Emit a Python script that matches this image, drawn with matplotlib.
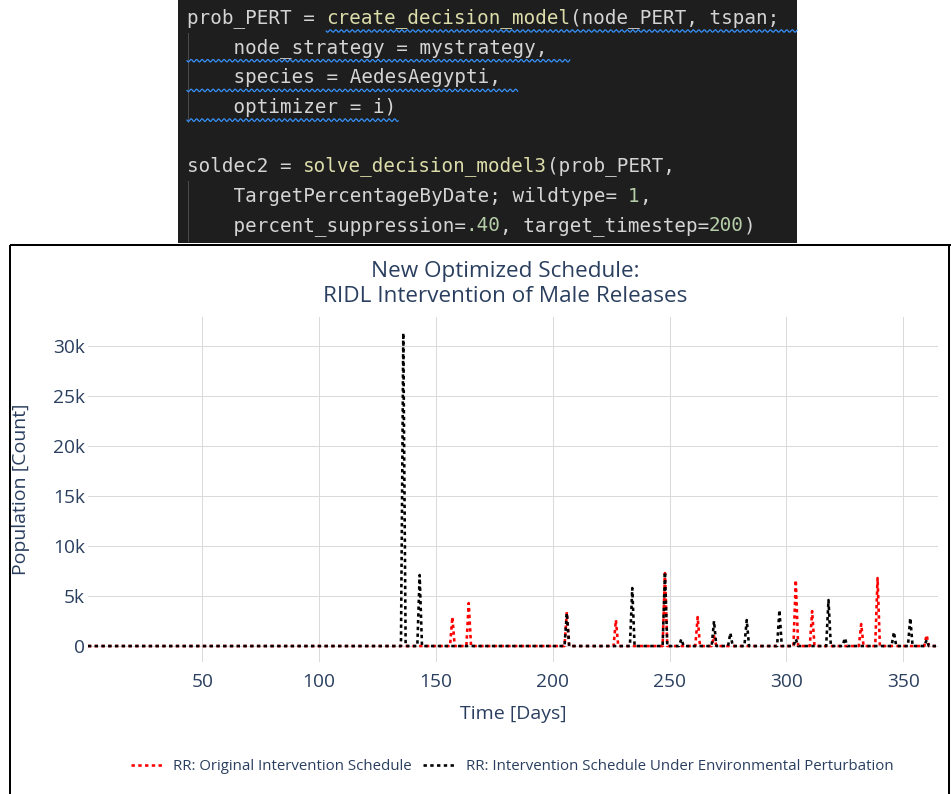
import numpy as np
import matplotlib
matplotlib.use("Agg")
import matplotlib.pyplot as plt
from matplotlib.lines import Line2D

# ---------------- data ----------------
days = np.arange(1, 366)

orig_peak_days = [157, 164, 206, 227, 248, 262, 269, 304, 311, 332, 339, 360]
orig_peak_vals = [2900, 4300, 3400, 2600, 7300, 2900, 1000, 6600, 3500, 2200, 6800, 1100]

pert_peak_days = [136, 143, 206, 234, 248, 255, 269, 276, 283, 297, 304, 318, 325, 346, 353, 360]
pert_peak_vals = [31300, 7100, 3300, 5800, 7400, 700, 2500, 1300, 2600, 3600, 700, 4600, 800, 1400, 2800, 600]

series_names = ["RR: Original Intervention Schedule",
                "RR: Intervention Schedule Under Environmental Perturbation"]
series_colors = ["#ff0000", "#000000"]

x_ticks = [50, 100, 150, 200, 250, 300, 350]
y_ticks = [0, 5000, 10000, 15000, 20000, 25000, 30000]
y_tick_labels = ["0", "5k", "10k", "15k", "20k", "25k", "30k"]

title_text = "New Optimized Schedule:\nRIDL Intervention of Male Releases"
x_title = "Time [Days]"
y_title = "Population [Count]"

# code snippet: list of lines, each a list of (text, kind)
code_lines = [
    [("prob_PERT = ", "t"), ("create_decision_model", "f"), ("(node_PERT, tspan;", "t")],
    [("    node_strategy = mystrategy,", "t")],
    [("    species = AedesAegypti,", "t")],
    [("    optimizer = i)", "t")],
    [],
    [("soldec2 = ", "t"), ("solve_decision_model3", "f"), ("(prob_PERT,", "t")],
    [("    TargetPercentageByDate; wildtype= ", "t"), ("1", "n"), (",", "t")],
    [("    percent_suppression=", "t"), (".40", "n"), (", target_timestep=", "t"), ("200", "n"), (")", "t")],
]
# squiggle underline spans (line index, start col, end col)
squiggles = [(0, 12, 53), (1, 0, 33), (2, 0, 28.5), (3, 0, 18.2)]

# ---------------- build series ----------------
orig = np.zeros(len(days))
orig[np.searchsorted(days, orig_peak_days)] = orig_peak_vals
pert = np.zeros(len(days))
pert[np.searchsorted(days, pert_peak_days)] = pert_peak_vals

# ---------------- figure ----------------
W, H = 951, 794
fig = plt.figure(figsize=(W / 100, H / 100), dpi=100)
fig.patch.set_facecolor("white")

PX = 72 / 100  # points per pixel
txt_color = "#2a3f5f"
font = ["Open Sans", "DejaVu Sans"]

# overlay axes in pixel coords for decorations
deco = fig.add_axes([0, 0, 1, 1], zorder=0)
deco.set_xlim(0, W)
deco.set_ylim(H, 0)
deco.axis("off")

# code block background
deco.add_patch(plt.Rectangle((178, 0), 619, 243, facecolor="#1e1e1e", edgecolor="none"))
# chart box border
deco.plot([10, 10], [245, H + 5], color="black", lw=2 * PX, solid_capstyle="butt")
deco.plot([10, W + 5], [245, 245], color="black", lw=2 * PX, solid_capstyle="butt")
deco.plot([949, 949], [245, H + 5], color="black", lw=2 * PX, solid_capstyle="butt")

# code text (monospace: advance 0.602 em)
code_colors = {"t": "#d4d4d4", "f": "#dcdcaa", "n": "#b5cea8"}
cw = 11.6
code_fs = cw / 0.602 * PX
x0 = 187
line_y = [18 + 29.7 * i for i in range(len(code_lines))]
for i, segs in enumerate(code_lines):
    col = 0
    for text, kind in segs:
        deco.text(x0 + col * cw, line_y[i], text, family=["DejaVu Sans Mono"],
                  fontsize=code_fs, color=code_colors[kind], va="center", ha="left",
                  clip_on=True)
        col += len(text)
# indentation guides
for (a, b) in [(1, 3), (6, 7)]:
    deco.plot([x0 + 1, x0 + 1], [line_y[a] - 15, line_y[b] + 15], color="#4a4a4a", lw=1 * PX)
# squiggles
for (li, c0, c1) in squiggles:
    xs = np.linspace(x0 + c0 * cw, min(x0 + c1 * cw, 797), 400)
    ys = line_y[li] + 13 + 1.3 * np.sin((xs - xs[0]) / 5.5 * 2 * np.pi)
    deco.plot(xs, ys, color="#3794ff", lw=1.2 * PX)

# ---------------- main plot ----------------
left, right, top, bottom = 87.9, 938.3, 317.4, 661.7
ax = fig.add_axes([left / W, 1 - bottom / H, (right - left) / W, (bottom - top) / H], zorder=2)
ax.set_facecolor("none")

lw = 2.6 * PX
dash = (0, (1.3, 1.3))
for yv, name, c in zip([orig, pert], series_names, series_colors):
    ax.plot(days, yv, color=c, lw=lw, linestyle=dash, dash_capstyle="butt", label=name, zorder=3)

ymax = max(max(orig_peak_vals), max(pert_peak_vals))
ax.set_xlim(days[0], days[-1])
ax.set_ylim(-0.05 * ymax, 1.05 * ymax)
ax.set_xticks(x_ticks)
ax.set_xticklabels([str(v) for v in x_ticks])
ax.set_yticks(y_ticks)
ax.set_yticklabels(y_tick_labels)
ax.grid(True, color="#dadada", lw=1 * PX, zorder=0)
ax.set_axisbelow(True)
for s in ax.spines.values():
    s.set_visible(False)
ax.tick_params(axis="both", length=0, labelsize=13.8, labelcolor=txt_color)
ax.tick_params(axis="x", pad=8)
ax.tick_params(axis="y", pad=2)
for lab in ax.get_xticklabels() + ax.get_yticklabels():
    lab.set_family(font)

ax.set_xlabel(x_title, fontsize=14, color=txt_color, family=font, va="center")
ax.xaxis.set_label_coords(0.5, (bottom - 714) / (bottom - top))
ax.set_ylabel(y_title, fontsize=14, color=txt_color, family=font, va="center")
ax.yaxis.set_label_coords((21.5 - left) / (right - left), (bottom - 489) / (bottom - top))

fig.text(505 / W, 1 - 284 / H, title_text, ha="center", va="center", fontsize=16.2,
         color=txt_color, family=font, linespacing=1.25)

handles = [Line2D([], [], color=c, lw=lw, linestyle=dash, dash_capstyle="butt") for c in series_colors]
leg = fig.legend(handles, series_names, ncol=2, loc="center",
                 bbox_to_anchor=(512 / W, 1 - 767 / H), frameon=False,
                 prop={"family": font, "size": 10.8}, handlelength=2.2,
                 handletextpad=0.65, columnspacing=0.75)
for t in leg.get_texts():
    t.set_color(txt_color)

fig.savefig("out.png", dpi=100)
